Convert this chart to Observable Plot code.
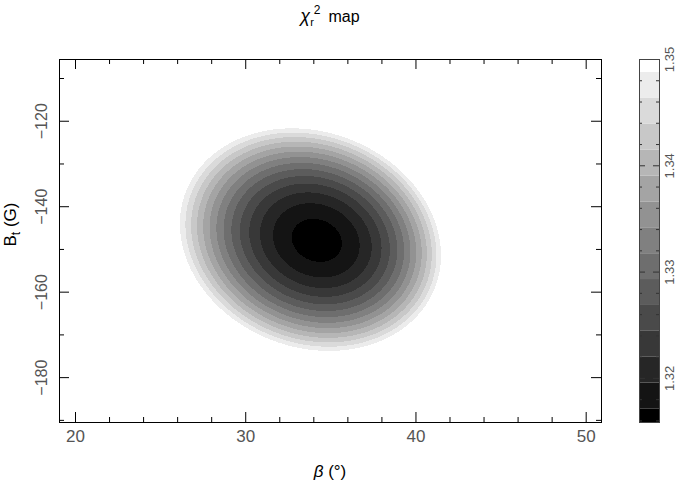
<!DOCTYPE html>
<html><head><meta charset="utf-8">
<script src="https://cdn.jsdelivr.net/npm/d3@7"></script>
<script src="https://cdn.jsdelivr.net/npm/@observablehq/plot@0.6"></script>
<style>
body{margin:0;background:#fff;}
#wrap{position:relative;width:677px;height:491px;overflow:hidden;}
#wrap svg{position:absolute;top:0;}
</style></head><body><div id="wrap"></div>
<script>
// axis domains (read from the frame)
const betaDomain = [19.06, 50.9];
const btDomain = [-190.5, -105.55];
// tick values
const betaMajor = [20, 30, 40, 50];
const betaMinor = [22, 24, 26, 28, 32, 34, 36, 38, 42, 44, 46, 48];
const btMajor = [-180, -160, -140, -120];
const btMinor = [-190, -170, -150, -130, -110];
// chi2_r surface: minimum, its position, curvature, skew
const chi2Min = 1.3159;
const beta0 = 34.16;
const bt0 = -148.0;
const curvature = [5.78e-4, 2.39e-5, 4.96e-5]; // beta^2, beta*Bt, Bt^2
const skew = 0.0131;
// colour bar
const cbDomain = [1.31585, 1.35];
const levels = [1.31713, 1.31956, 1.32199, 1.32443, 1.32686, 1.32930, 1.33173,
                1.33417, 1.33660, 1.33904, 1.34147, 1.34391, 1.34634, 1.34878];
const grays = ["#000000", "#141414", "#262626", "#383838", "#4a4a4a", "#5c5c5c", "#6e6e6e",
               "#808080", "#929292", "#a4a4a4", "#b6b6b6", "#c8c8c8", "#dadada", "#ececec", "#ffffff"];
const cbMajor = [1.32, 1.33, 1.34, 1.35];
const cbMinor = [1.316, 1.318, 1.322, 1.324, 1.326, 1.328, 1.332, 1.334, 1.336, 1.338,
                 1.342, 1.344, 1.346, 1.348];

function chi2(b, t) {
  const db = b - beta0, dt = t - bt0;
  const q = curvature[0] * db * db + 2 * curvature[1] * db * dt + curvature[2] * dt * dt;
  return chi2Min + q * (1 + skew * db);
}

const W = 677, H = 491, mL = 59, mR = 76, mT = 59, mB = 69;
const fw = W - mL - mR, fh = H - mT - mB;
const font = "Liberation Sans, Arial, sans-serif";
const lab = "#555";
const fmt = d => (d < 0 ? "\u2212" + Math.abs(d) : String(d));

const main = Plot.plot({
  width: W, height: H,
  marginLeft: mL, marginRight: mR, marginTop: mT, marginBottom: mB,
  x: {domain: betaDomain, axis: null},
  y: {domain: btDomain, axis: null},
  color: {type: "threshold", domain: levels, range: grays},
  style: {fontFamily: font, background: "white"},
  marks: [
    Plot.raster({fill: chi2, x1: betaDomain[0], x2: betaDomain[1], y1: btDomain[0], y2: btDomain[1], pixelSize: 1, imageRendering: "pixelated"}),
    Plot.frame({stroke: "black"}),
    Plot.tickX(betaMajor, {x: d => d, insetTop: fh - 10, stroke: "black"}),
    Plot.tickX(betaMajor, {x: d => d, insetBottom: fh - 10, stroke: "black"}),
    Plot.tickX(betaMinor, {x: d => d, insetTop: fh - 5, stroke: "black"}),
    Plot.tickX(betaMinor, {x: d => d, insetBottom: fh - 5, stroke: "black"}),
    Plot.tickY(btMajor, {y: d => d, insetRight: fw - 10, stroke: "black"}),
    Plot.tickY(btMajor, {y: d => d, insetLeft: fw - 10, stroke: "black"}),
    Plot.tickY(btMinor, {y: d => d, insetRight: fw - 5, stroke: "black"}),
    Plot.tickY(btMinor, {y: d => d, insetLeft: fw - 5, stroke: "black"}),
    Plot.text(betaMajor, {x: d => d, frameAnchor: "bottom", dy: 14, text: fmt, fontSize: 17, fill: lab, lineAnchor: "middle"}),
    Plot.text(btMajor, {y: d => d, frameAnchor: "left", dx: -18, rotate: -90, text: fmt, fontSize: 16, fill: lab, textAnchor: "middle", lineAnchor: "middle"})
  ]
});

const edges = [cbDomain[0], ...levels, cbDomain[1]];
const bands = grays.map((c, i) => ({lo: edges[i], hi: edges[i + 1]}));
const cbW = 57, cbL = 19, cbR = 18;
const cbw = cbW - cbL - cbR;
const cb = Plot.plot({
  width: cbW, height: H,
  marginLeft: cbL, marginRight: cbR, marginTop: mT, marginBottom: mB,
  y: {domain: cbDomain, axis: null},
  color: {type: "threshold", domain: levels, range: grays},
  style: {fontFamily: font, background: "transparent", overflow: "visible"},
  marks: [
    Plot.rect(bands, {y1: "lo", y2: "hi", fill: "lo"}),
    Plot.tickY(cbMinor, {y: d => d, insetRight: cbw - 3, stroke: "#333"}),
    Plot.tickY(cbMinor, {y: d => d, insetLeft: cbw - 3, stroke: "#333"}),
    Plot.tickY(cbMajor, {y: d => d, insetRight: cbw - 6, stroke: "#333"}),
    Plot.tickY(cbMajor, {y: d => d, insetLeft: cbw - 6, stroke: "#333"}),
    Plot.frame({stroke: "#444"}),
    Plot.text(cbMajor, {y: d => d, frameAnchor: "right", dx: 10, rotate: -90, text: d => d.toFixed(2), fontSize: 13, fill: lab, textAnchor: "middle", lineAnchor: "middle"})
  ]
});

const wrap = document.getElementById("wrap");
main.style.left = "0px";
cb.style.left = (W - cbW) + "px";
wrap.appendChild(main);
wrap.appendChild(cb);

const svg = d3.select(main);
// title
const t = svg.append("text").attr("x", mL + fw / 2).attr("y", 22).attr("text-anchor", "middle")
  .attr("font-family", font).attr("font-size", 16).attr("fill", "black");
t.append("tspan").attr("font-style", "italic").attr("font-size", 18).text("\u03c7");
t.append("tspan").attr("dy", 4).attr("font-size", 11).text("r");
t.append("tspan").attr("dy", -12).attr("font-size", 12).text("2");
t.append("tspan").attr("dy", 8).text("\u2002map");
// x label
const xl = svg.append("text").attr("x", mL + fw / 2).attr("y", 477).attr("text-anchor", "middle")
  .attr("font-family", font).attr("font-size", 17).attr("fill", "black");
xl.append("tspan").attr("font-style", "italic").text("\u03b2");
xl.append("tspan").text(" (\u00b0)");
// y label
const yl = svg.append("text").attr("transform", `translate(16,${mT + fh / 2 - 16}) rotate(-90)`)
  .attr("text-anchor", "middle").attr("font-family", font).attr("font-size", 17).attr("fill", "black");
yl.append("tspan").text("B");
yl.append("tspan").attr("dy", 4).attr("font-size", 12).text("t");
yl.append("tspan").attr("dy", -4).text(" (G)");
</script>
</body></html>
